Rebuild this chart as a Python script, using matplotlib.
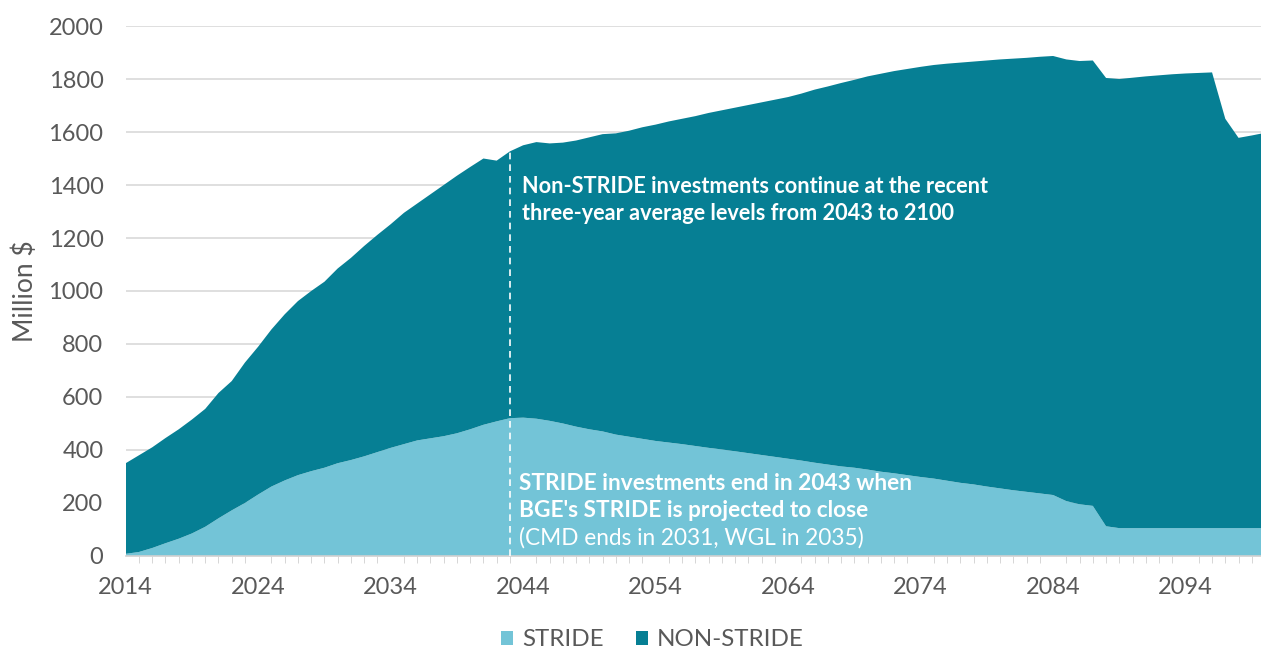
import matplotlib.pyplot as plt
import numpy as np

plt.rcParams['font.family'] = ['Lato', 'DejaVu Sans']

years = list(range(2014, 2101))

# STRIDE investments (million $)
stride = [
    8, 15, 30, 48, 65, 85, 110, 142, 172, 200,
    232, 262, 285, 305, 320, 333, 350, 362, 376, 392,
    408, 422, 436, 444, 452, 463, 478, 495, 508, 520,
    522, 518, 510, 500, 488, 478, 470, 458, 450, 442,
    434, 428, 422, 415, 408, 402, 395, 388, 381, 374,
    367, 360, 352, 345, 338, 333, 326, 318, 312, 305,
    298, 292, 284, 276, 270, 262, 255, 248, 242, 236,
    230, 207, 195, 189, 112, 105, 105, 105, 105, 105,
    105, 105, 105, 105, 105, 105, 105,
]

# NON-STRIDE investments (million $)
non_stride = [
    342, 365, 380, 397, 413, 430, 445, 473, 488, 530,
    558, 593, 627, 657, 680, 702, 735, 763, 794, 820,
    844, 873, 894, 921, 948, 972, 990, 1005, 984, 1007,
    1028, 1044, 1047, 1060, 1080, 1102, 1122, 1137, 1155, 1176,
    1194, 1212, 1228, 1245, 1264, 1280, 1297, 1314, 1331, 1348,
    1365, 1385, 1408, 1427, 1447, 1464, 1484, 1502, 1518, 1533,
    1548, 1561, 1574, 1586, 1596, 1608, 1619, 1629, 1638, 1648,
    1657, 1667, 1673, 1681, 1692, 1695, 1700, 1705, 1709, 1713,
    1716, 1718, 1720, 1545, 1473, 1482, 1492,
]

series_names = ['STRIDE', 'NON-STRIDE']
colors = ['#73c4d7', '#067f94']
year_ticks = list(range(2014, 2100, 10))
y_ticks = list(range(0, 2001, 200))
stride_end = 2043

grey = '#595959'

fig = plt.figure(figsize=(12.61, 6.51), dpi=100)
ax = fig.add_axes([0.0997, 0.146, 0.9035, 0.814])

ax.stackplot(years, stride, non_stride, colors=colors, labels=series_names, zorder=2)

ax.set_xlim(2014, 2100)
ax.set_ylim(0, 2000)
ax.set_yticks(y_ticks)
ax.set_xticks(year_ticks)
ax.set_xticks(years, minor=True)
ax.tick_params(axis='y', length=0, labelsize=17, labelcolor=grey, pad=16)
ax.tick_params(axis='x', which='major', length=0, labelsize=17, labelcolor=grey, pad=15)
ax.tick_params(axis='x', which='minor', length=5, color='#d0d0d0', direction='out')
ax.grid(axis='y', color='#d9d9d9', linewidth=1.2, zorder=0)
ax.set_axisbelow(True)
for s in ['top', 'right', 'left']:
    ax.spines[s].set_visible(False)
ax.spines['bottom'].set_color('#d0d0d0')
ax.spines['bottom'].set_linewidth(1.2)
ax.spines['bottom'].set_zorder(3)

ax.set_ylabel('Million $', fontsize=19, color=grey, labelpad=4)
ax.yaxis.set_label_coords(-0.077, 0.5)

# dashed marker where STRIDE ends
top_2043 = stride[years.index(stride_end)] + non_stride[years.index(stride_end)]
ax.plot([stride_end, stride_end], [0, top_2043], color='white', linestyle=(0, (4, 3)),
        linewidth=1.2, zorder=4)

ax.text(2043.9, 1396, 'Non-STRIDE investments continue at the recent',
        color='white', fontsize=15.6, fontweight='bold', va='center', ha='left', zorder=5)
ax.text(2043.9, 1292, 'three-year average levels from 2043 to 2100',
        color='white', fontsize=15.6, fontweight='bold', va='center', ha='left', zorder=5)

ax.text(2043.7, 272, 'STRIDE investments end in 2043 when',
        color='white', fontsize=16.3, fontweight='bold', va='center', ha='left', zorder=5)
ax.text(2043.7, 170, "BGE's STRIDE is projected to close",
        color='white', fontsize=16.3, fontweight='bold', va='center', ha='left', zorder=5)
ax.text(2043.7, 68, '(CMD ends in 2031, WGL in 2035)',
        color='white', fontsize=16.3, va='center', ha='left', zorder=5)

leg = fig.legend(loc='center', bbox_to_anchor=(0.5175, 0.017), ncol=2, frameon=False,
                 fontsize=17.4, handlelength=0.48, handleheight=0.48, handletextpad=0.37,
                 columnspacing=1.37, borderpad=0)
for t in leg.get_texts():
    t.set_color(grey)

fig.savefig('out.png', dpi=100)
